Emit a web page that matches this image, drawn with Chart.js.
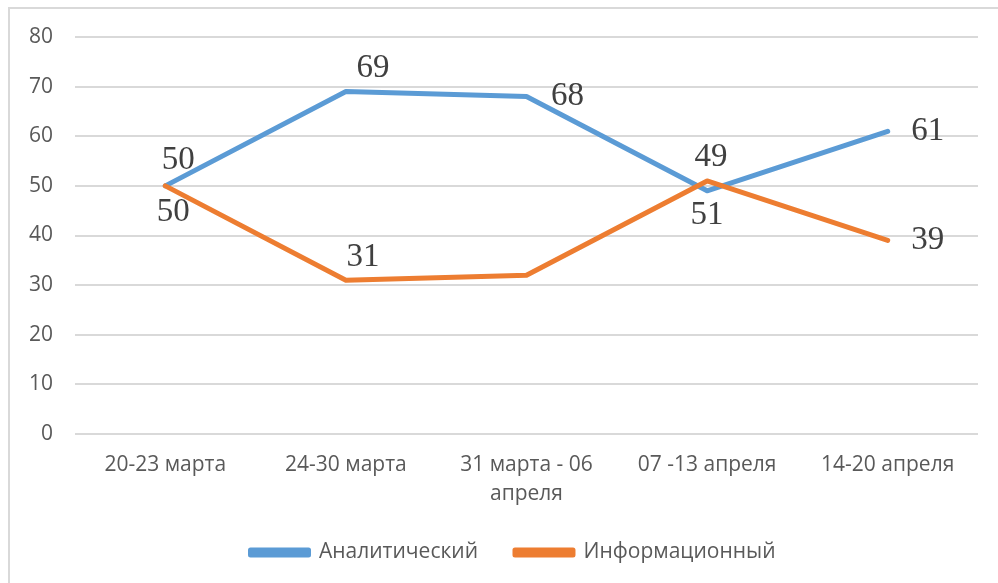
<!DOCTYPE html>
<html>
<head>
<meta charset="utf-8">
<script src="https://cdn.jsdelivr.net/npm/chart.js@4.4.0/dist/chart.umd.min.js"></script>
<style>
  html, body { margin: 0; padding: 0; background: #fff; }
  #wrap { position: relative; width: 998px; height: 583px; }
</style>
</head>
<body>
<div id="wrap"><canvas id="chart" width="998" height="583"></canvas></div>
<script>
const categories = ["20-23 марта", "24-30 марта", ["31 марта - 06", "апреля"], "07 -13 апреля", "14-20 апреля"]
const analyticValues = [50, 69, 68, 49, 61]
const infoValues = [50, 31, 32, 51, 39]
const yTicks = [0, 10, 20, 30, 40, 50, 60, 70, 80]

const textGray = "#595959"
const sansFont = "'Open Sans', 'Liberation Sans', sans-serif"

// label offsets from the point, null = no label
const labelOffsets = [
  [[13, -26], [27, -23], [41, 0], [4, -34], [40, 0]],
  [[8, 26], [17, -23], null, [0, 34], [40, 0]],
]

const valueLabels = {
  id: "valueLabels",
  afterDatasetsDraw(chart) {
    const ctx = chart.ctx
    ctx.save()
    ctx.font = "33px 'Liberation Serif', 'Times New Roman', serif"
    ctx.fillStyle = "#404040"
    ctx.textAlign = "center"
    ctx.textBaseline = "middle"
    chart.data.datasets.forEach((ds, di) => {
      const meta = chart.getDatasetMeta(di)
      meta.data.forEach((pt, i) => {
        const off = labelOffsets[di][i]
        if (!off) return
        ctx.fillText(String(ds.data[i]), pt.x + off[0], pt.y + off[1])
      })
    })
    ctx.restore()
  },
}

const frame = {
  id: "frame",
  beforeDraw(chart) {
    const ctx = chart.ctx
    ctx.save()
    ctx.strokeStyle = "#d9d9d9"
    ctx.lineWidth = 2
    ctx.beginPath()
    ctx.moveTo(9, 600)
    ctx.lineTo(9, 8)
    ctx.lineTo(998, 8)
    ctx.stroke()
    ctx.restore()
  },
}

// the legend sits centred under the plot area, not the whole canvas
const legendShift = {
  id: "legendShift",
  afterLayout(chart) {
    chart.legend.left = 48
  },
}

new Chart(document.getElementById("chart"), {
  type: "line",
  data: {
    labels: categories,
    datasets: [
      {
        label: "Аналитический",
        data: analyticValues,
        borderColor: "#5B9BD5",
        backgroundColor: "#5B9BD5",
        borderWidth: 5,
        pointRadius: 0,
        borderJoinStyle: "round",
        borderCapStyle: "round",
        tension: 0,
        order: 1,
      },
      {
        label: "Информационный",
        data: infoValues,
        borderColor: "#ED7D31",
        backgroundColor: "#ED7D31",
        borderWidth: 5,
        pointRadius: 0,
        borderJoinStyle: "round",
        borderCapStyle: "round",
        tension: 0,
        order: 0,
      },
    ],
  },
  options: {
    responsive: false,
    animation: false,
    layout: {
      padding: { left: 0, right: 20, top: 37, bottom: 10 },
    },
    plugins: {
      tooltip: { enabled: false },
      legend: {
        position: "bottom",
        labels: {
          boxWidth: 58,
          boxHeight: 5,
          padding: 37,
          color: textGray,
          font: { size: 21, family: sansFont },
          sort: (a, b) => a.datasetIndex - b.datasetIndex,
        },
      },
    },
    scales: {
      x: {
        offset: true,
        grid: { display: false },
        border: { display: false },
        ticks: {
          color: textGray,
          font: { size: 21, family: sansFont, lineHeight: 1.38 },
          padding: 9,
          maxRotation: 0,
          autoSkip: false,
        },
        afterFit(scale) {
          scale.height = 71
        },
      },
      y: {
        min: 0,
        max: 80,
        afterBuildTicks(scale) {
          scale.ticks = yTicks.map((v) => ({ value: v }))
        },
        grid: { color: "#d9d9d9", lineWidth: 2, drawTicks: false },
        border: { display: false },
        ticks: {
          color: textGray,
          font: { size: 21, family: sansFont },
          padding: 22,
        },
        afterFit(scale) {
          scale.width = 75
        },
      },
    },
  },
  plugins: [frame, valueLabels, legendShift],
})
</script>
</body>
</html>
